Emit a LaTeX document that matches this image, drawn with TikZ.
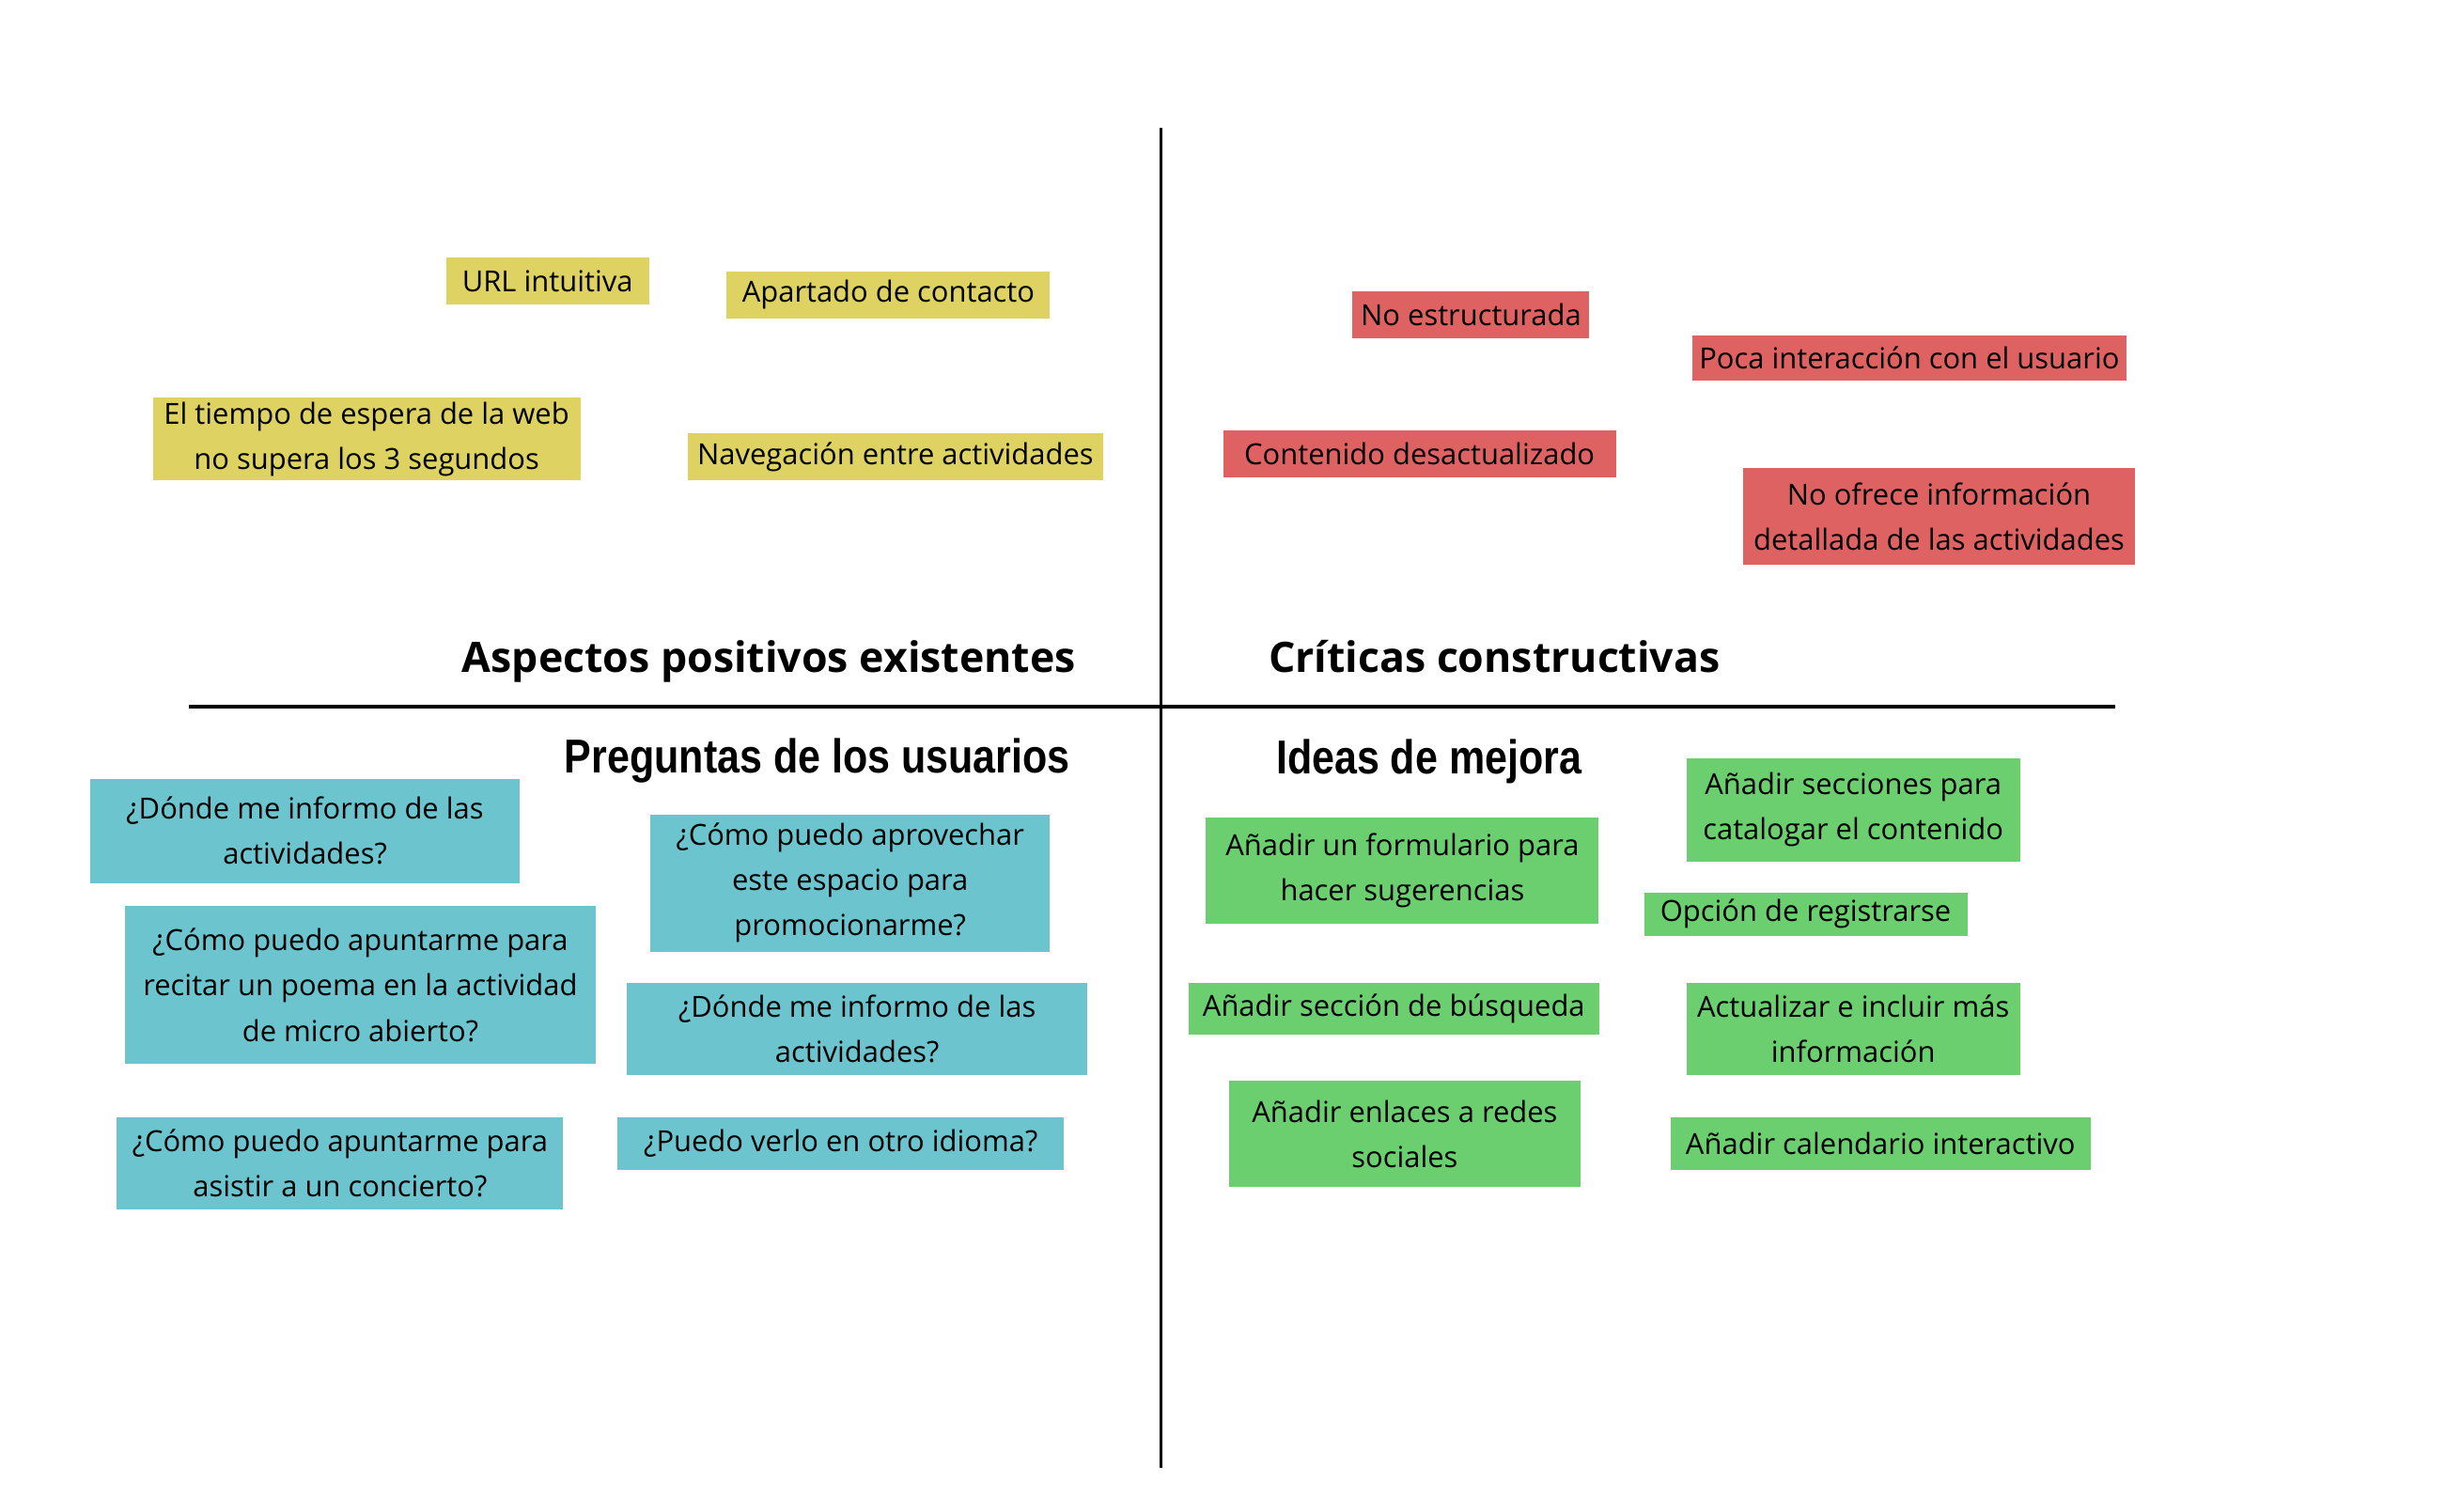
\documentclass[tikz,border=0pt]{standalone}
\usepackage{fontspec}
\setmainfont{Open Sans}
\newfontfamily\headfont[FakeStretch=0.85]{Liberation Sans}
\usepackage{xcolor}
\usepackage{tikz}
\usetikzlibrary{positioning}
\definecolor{notey}{RGB}{221,210,98}
\definecolor{noter}{RGB}{223,98,98}
\definecolor{notet}{RGB}{108,197,206}
\definecolor{noteg}{RGB}{107,207,111}
\tikzset{
  note/.style={rectangle, inner xsep=2pt, inner ysep=1pt, align=center, font=\fontsize{8.8}{13.7}\selectfont},
  yellowbox/.style={note, fill=notey},
  redbox/.style={note, fill=noter},
  bluebox/.style={note, fill=notet},
  greenbox/.style={note, fill=noteg},
  title/.style={inner sep=0pt, anchor=base, font=\fontsize{12.7}{15}\selectfont\bfseries},
  subtitle/.style={inner sep=0pt, anchor=base, font=\headfont\fontsize{14.4}{17}\selectfont\bfseries},
  axis/.style={line width=0.9pt, black},
}

\begin{document}
\begin{tikzpicture}[x=0.0166cm, y=-0.0166cm]
  \useasboundingbox (0,0) rectangle (1568,969);
  % Axes
  \coordinate (top) at (744,82);
  \coordinate (bottom) at (744,941);
  \coordinate (left) at (121,453);
  \coordinate (right) at (1356,453);
  \draw[axis] (top) -- (bottom);
  \draw[axis] (left) -- (right);

  % Titles
  \node[title] (positivos) at (493,430.7) {Aspectos positivos existentes};
  \node[title] (criticas) at (958,430.7) {Críticas constructivas};
  \node[subtitle] (preguntas) at (524,495.5) {Preguntas de los usuarios};
  \node[subtitle] (mejora) at (916,496) {Ideas de mejora};

  % Aspectos positivos
  \node[yellowbox, minimum width=2.16cm, minimum height=0.50cm] (url) at (351,180) {URL intuitiva};
  \node[yellowbox, minimum width=3.44cm, minimum height=0.50cm] (contacto) at (569.5,189) {Apartado de contacto};
  \node[yellowbox, minimum width=4.55cm, minimum height=0.88cm] (espera) at (235,281.5) {El tiempo de espera de la web\\no supera los 3 segundos};
  \node[yellowbox, minimum width=4.42cm, minimum height=0.50cm] (navegacion) at (574,293) {Navegación entre actividades};

  % Criticas
  \node[redbox, minimum width=2.52cm, minimum height=0.50cm] (estructura) at (943,202) {No estructurada};
  \node[redbox, minimum width=4.58cm, minimum height=0.48cm] (interaccion) at (1224,229.5) {Poca interacción con el usuario};
  \node[redbox, minimum width=4.18cm, minimum height=0.50cm] (contenido) at (910,291) {Contenido desactualizado};
  \node[redbox, minimum width=4.18cm, minimum height=1.03cm] (informacion) at (1243,331) {No ofrece información\\detallada de las actividades};

  % Preguntas
  \node[bluebox, minimum width=4.57cm, minimum height=1.11cm] (donde) at (195.5,532.5) {¿Dónde me informo de las\\actividades?};
  \node[bluebox, minimum width=4.25cm, minimum height=1.46cm] (aprovechar) at (545,566) {¿Cómo puedo aprovechar\\este espacio para\\promocionarme?};
  \node[bluebox, minimum width=5.01cm, minimum height=1.68cm] (recitar) at (231,631.5) {¿Cómo puedo apuntarme para\\recitar un poema en la actividad\\de micro abierto?};
  \node[bluebox, minimum width=4.90cm, minimum height=0.98cm] (donde2) at (549.5,659.5) {¿Dónde me informo de las\\actividades?};
  \node[bluebox, minimum width=4.75cm, minimum height=0.98cm] (concierto) at (218,745.5) {¿Cómo puedo apuntarme para\\asistir a un concierto?};
  \node[bluebox, minimum width=4.75cm, minimum height=0.56cm] (idioma) at (539,733) {¿Puedo verlo en otro idioma?};

  % Ideas de mejora
  \node[greenbox, minimum width=3.55cm, minimum height=1.10cm] (secciones) at (1188,519) {Añadir secciones para\\catalogar el contenido};
  \node[greenbox, minimum width=4.18cm, minimum height=1.13cm] (formulario) at (899,558) {Añadir un formulario para\\hacer sugerencias};
  \node[greenbox, minimum width=3.44cm, minimum height=0.46cm] (registro) at (1157.5,586) {Opción de registrarse};
  \node[greenbox, minimum width=4.37cm, minimum height=0.55cm] (busqueda) at (893.5,646.5) {Añadir sección de búsqueda};
  \node[greenbox, minimum width=3.55cm, minimum height=0.98cm] (actualizar) at (1188,659.5) {Actualizar e incluir más\\información};
  \node[greenbox, minimum width=3.74cm, minimum height=1.13cm] (enlaces) at (900.5,727) {Añadir enlaces a redes\\sociales};
  \node[greenbox, minimum width=4.47cm, minimum height=0.56cm] (calendario) at (1205.5,733) {Añadir calendario interactivo};
\end{tikzpicture}
\end{document}
